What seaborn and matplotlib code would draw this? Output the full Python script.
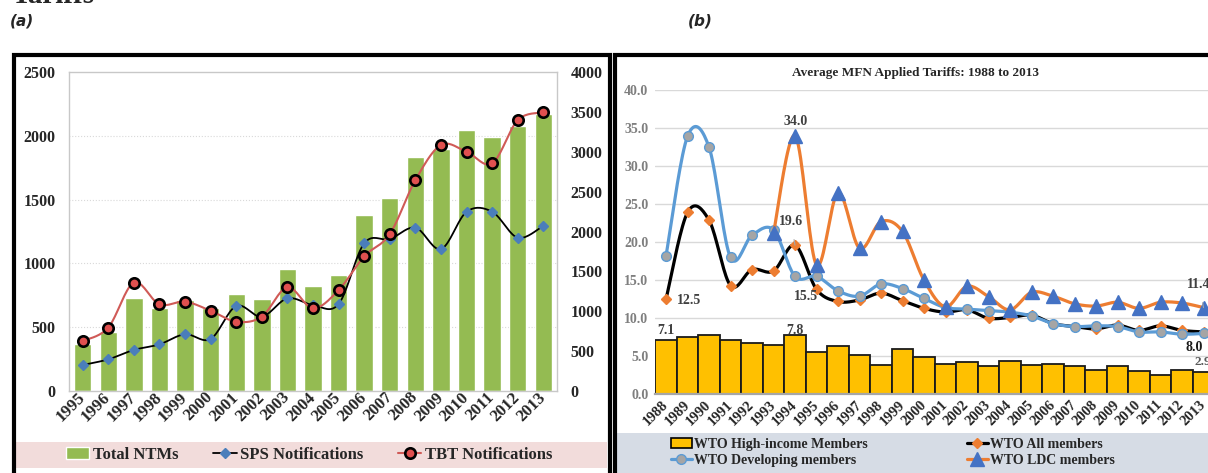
import numpy as np
import matplotlib
matplotlib.use('Agg')
import matplotlib.pyplot as plt
import seaborn as sns
from matplotlib.patches import Rectangle, Patch
from matplotlib.lines import Line2D

# ---- panel (a) data : NTM notifications
years_a = [str(y) for y in range(1995, 2014)]
total_ntms = [587, 739, 1163, 1042, 1134, 1042, 1211, 1152, 1528, 1315, 1458,
              2206, 2416, 2931, 3037, 3275, 3184, 3322, 3478]
sps_notif = [202, 246, 320, 364, 443, 406, 665, 581, 725, 673, 680,
             1157, 1191, 1280, 1112, 1405, 1405, 1201, 1295]
tbt_notif = [390, 495, 848, 678, 699, 628, 542, 581, 812, 647, 790,
             1055, 1230, 1654, 1929, 1876, 1785, 2125, 2185]

# ---- panel (b) data : average MFN applied tariffs
years_b = [str(y) for y in range(1988, 2014)]
high_income = [7.1, 7.5, 7.8, 7.2, 6.8, 6.5, 7.8, 5.6, 6.4, 5.2, 3.9, 5.9, 4.9,
               4.0, 4.3, 3.7, 4.4, 3.8, 3.95, 3.7, 3.25, 3.7, 3.1, 2.6, 3.25, 2.9]
all_members = [12.5, 23.9, 22.9, 14.3, 16.4, 16.2, 19.6, 13.8, 12.2, 12.4, 13.3,
               12.3, 11.3, 10.8, 11.1, 10.0, 10.1, 10.4, 9.3, 8.9, 8.6, 9.1, 8.4,
               9.0, 8.4, 8.2]
developing = [18.2, 33.9, 32.5, 18.0, 20.9, 21.6, 15.5, 15.5, 13.6, 12.9, 14.5,
              13.9, 12.6, 11.4, 11.2, 11.0, 10.8, 10.3, 9.3, 8.9, 9.0, 8.9, 8.2,
              8.2, 7.9, 8.0]
ldc = [np.nan, np.nan, np.nan, np.nan, np.nan, 21.2, 34.0, 17.0, 26.5, 19.2, 22.7,
       21.4, 15.0, 11.5, 14.2, 12.85, 11.1, 13.4, 12.9, 11.9, 11.6, 12.1, 11.3,
       12.1, 12.0, 11.4]


def smooth(xs, ys, n=20):
    # excel style smoothed line (bezier through the points)
    xs = np.asarray(xs, float)
    ys = np.asarray(ys, float)
    px = np.concatenate([[xs[0]], xs, [xs[-1]]])
    py = np.concatenate([[ys[0]], ys, [ys[-1]]])
    t = np.linspace(0, 1, n)[:, None]
    out_x, out_y = [], []
    for i in range(1, len(px) - 2):
        p0 = np.array([px[i], py[i]])
        p3 = np.array([px[i + 1], py[i + 1]])
        c1 = p0 + (p3 - np.array([px[i - 1], py[i - 1]])) / 6
        c2 = p3 - (np.array([px[i + 2], py[i + 2]]) - p0) / 6
        seg = (1 - t) ** 3 * p0 + 3 * (1 - t) ** 2 * t * c1 + 3 * (1 - t) * t ** 2 * c2 + t ** 3 * p3
        out_x.extend(seg[:, 0])
        out_y.extend(seg[:, 1])
    return out_x, out_y


sns.set_style('white')
plt.rcParams['font.family'] = ['Liberation Serif', 'DejaVu Serif']
plt.rcParams['font.weight'] = 'bold'

W, H = 1208, 473
fig = plt.figure(figsize=(W / 100, H / 100), dpi=100)


def fx(px):
    return px / W


def fy(py):
    return 1 - py / H


# headings
fig.text(fx(12), fy(3), 'Tariffs', fontsize=21, fontweight='bold', va='baseline')
fig.text(fx(10), fy(21), '(a)', fontsize=11, fontstyle='italic', fontweight='bold',
         family='DejaVu Sans', va='center')
fig.text(fx(688), fy(21), '(b)', fontsize=11, fontstyle='italic', fontweight='bold',
         family='DejaVu Sans', va='center')

# legend bands and frames
fig.add_artist(Rectangle((fx(15), fy(468.3)), fx(592), 26.6 / H, transform=fig.transFigure,
                         facecolor='#f2dcdb', edgecolor='none', zorder=0))
fig.add_artist(Rectangle((fx(617), fy(473)), fx(600), 40 / H, transform=fig.transFigure,
                         facecolor='#d6dce5', edgecolor='none', zorder=0))
fig.add_artist(Rectangle((fx(13.5), -0.05), fx(596), fy(55.5) + 0.05, transform=fig.transFigure,
                         fill=False, edgecolor='black', lw=3, zorder=10))
fig.add_artist(Rectangle((fx(615), -0.05), 1.0, fy(55.5) + 0.05, transform=fig.transFigure,
                         fill=False, edgecolor='black', lw=3, zorder=10))

# ================= panel (a)
ax_bar = fig.add_axes([fx(69.3), fy(390.7), fx(487.4), 318.4 / H])
sns.barplot(x=years_a, y=total_ntms, ax=ax_bar, color='#94bb52', saturation=1, width=0.68, zorder=2)
ax_bar.hlines([800, 1600, 2400, 3200], -1, 20, colors='#d9d9d9', linestyles=':', lw=0.8, zorder=0.5)
ax_bar.set_ylim(0, 4000)
ax_bar.set_xlim(-0.52, 18.52)

ax_line = ax_bar.twinx()
ax_bar.yaxis.tick_right()
ax_line.yaxis.tick_left()
x_a = np.arange(len(years_a))
sx, sy = smooth(x_a, sps_notif)
ax_line.plot(sx, sy, color='black', lw=1.3, zorder=3)
ax_line.plot(x_a, sps_notif, ls='none', marker='D', ms=5.5, mfc='#4a7ebb', mec='#4a7ebb', zorder=4)
tx, ty = smooth(x_a, tbt_notif)
ax_line.plot(tx, ty, color='#d05a57', lw=1.5, zorder=5)
ax_line.plot(x_a, tbt_notif, ls='none', marker='o', ms=7.5, mfc='#e0504f', mec='black', mew=1.9, zorder=6)
ax_line.set_ylim(0, 2500)
ax_line.set_yticks(range(0, 2501, 500))
ax_bar.set_yticks(range(0, 4001, 500))

for sp in ax_line.spines.values():
    sp.set_visible(False)
for sp in ax_bar.spines.values():
    sp.set_color('#c8c8c8')
    sp.set_linewidth(1.0)
ax_bar.set_xlabel('')
ax_bar.set_ylabel('')
ax_bar.tick_params(axis='y', length=0, pad=10, labelsize=11.5)
ax_line.tick_params(axis='y', length=0, pad=10, labelsize=11.5)
ax_bar.tick_params(axis='x', length=0, pad=3, labelsize=12.2)
for lab in ax_bar.get_xticklabels():
    lab.set_rotation(45)
    lab.set_ha('right')
    lab.set_va('center')
    lab.set_rotation_mode('anchor')
    lab.set_fontweight('bold')
for lab in ax_bar.get_yticklabels() + ax_line.get_yticklabels():
    lab.set_fontweight('bold')

handles_a = [Patch(facecolor='#94bb52'),
             Line2D([0], [0], color='black', lw=1.3, marker='D', ms=5.5, mfc='#4a7ebb', mec='#4a7ebb'),
             Line2D([0], [0], color='#d05a57', lw=1.5, marker='o', ms=7.5, mfc='#e0504f', mec='black', mew=1.9)]
fig.legend(handles_a, ['Total NTMs', 'SPS Notifications', 'TBT Notifications'],
           loc='center left', bbox_to_anchor=(fx(66), fy(455)), ncol=3, frameon=False,
           prop={'size': 12, 'weight': 'bold'}, handlelength=1.4, handletextpad=0.2,
           columnspacing=2.1, borderpad=0, borderaxespad=0)

# ================= panel (b)
ax_b = fig.add_axes([fx(655.25), fy(394.3), fx(559), 304.3 / H])
sns.barplot(x=years_b, y=high_income, ax=ax_b, color='#ffc000', saturation=1, width=1.0,
            edgecolor='#1a1a1a', linewidth=1.3, zorder=2)
x_b = np.arange(len(years_b))

ax_x, ax_y = smooth(x_b, all_members)
ax_b.plot(ax_x, ax_y, color='black', lw=2.3, zorder=3)
ax_b.plot(x_b, all_members, ls='none', marker='D', ms=5.5, mfc='#ed7d31', mec='#ed7d31', zorder=4)

dx, dy = smooth(x_b, developing)
ax_b.plot(dx, dy, color='#5b9bd5', lw=2.3, zorder=5)
ax_b.plot(x_b, developing, ls='none', marker='o', ms=7, mfc='#a5a5a5', mec='#5b9bd5', mew=1, zorder=6)

ok = ~np.isnan(np.array(ldc))
lx, ly = smooth(x_b[ok], np.array(ldc)[ok])
ax_b.plot(lx, ly, color='#ed7d31', lw=2.3, zorder=7)
ax_b.plot(x_b[ok], np.array(ldc)[ok], ls='none', marker='^', ms=10, mfc='#4472c4', mec='#4472c4', zorder=8)

ax_b.set_ylim(0, 40)
ax_b.set_xlim(-0.5, 25.5)
ax_b.set_yticks(range(0, 41, 5))
ax_b.set_yticklabels([f'{v:.1f}' for v in range(0, 41, 5)])
ax_b.yaxis.grid(True, color='#d9d9d9', lw=1.0)
ax_b.set_axisbelow(True)
for k in ['top', 'right', 'left']:
    ax_b.spines[k].set_visible(False)
ax_b.spines['bottom'].set_color('#a6a6a6')
ax_b.spines['bottom'].set_linewidth(1.6)
ax_b.set_xlabel('')
ax_b.set_ylabel('')
ax_b.tick_params(axis='y', length=0, pad=5, labelsize=10, labelcolor='#7f7f7f')
ax_b.tick_params(axis='x', length=0, pad=6, labelsize=10.5, labelcolor='#262626')
for lab in ax_b.get_xticklabels():
    lab.set_rotation(45)
    lab.set_ha('right')
    lab.set_va('center')
    lab.set_rotation_mode('anchor')
    lab.set_fontweight('bold')
for lab in ax_b.get_yticklabels():
    lab.set_fontweight('bold')

fig.text(fx(916), fy(73), 'Average MFN Applied Tariffs: 1988 to 2013', fontsize=9.5,
         fontweight='bold', ha='center', va='center')

# data labels
lab_kw = dict(fontsize=10, fontweight='bold', color='#404040', ha='center', va='center', zorder=9)
ax_b.text(0.0, 8.4, '7.1', **lab_kw)
ax_b.text(6.0, 8.4, '7.8', **lab_kw)
ax_b.text(1.07, 12.3, '12.5', **lab_kw)
ax_b.text(6.02, 35.8, '34.0', **lab_kw)
ax_b.annotate('19.6', xy=(6.0, 19.6), xytext=(5.81, 22.7), textcoords='data',
              arrowprops=dict(arrowstyle='-', color='#a6a6a6', lw=0.8, shrinkA=6, shrinkB=5), **lab_kw)
ax_b.annotate('15.5', xy=(6.0, 15.5), xytext=(6.49, 12.9), textcoords='data',
              arrowprops=dict(arrowstyle='-', color='#a6a6a6', lw=0.8, shrinkA=6, shrinkB=4), **lab_kw)
ax_b.annotate('11.4', xy=(25.0, 11.4), xytext=(24.8, 14.4), textcoords='data',
              arrowprops=dict(arrowstyle='-', color='#a6a6a6', lw=0.8, shrinkA=6, shrinkB=6), **lab_kw)
ax_b.text(24.56, 6.2, '8.0', fontsize=10, fontweight='bold', color='#1a1a1a', ha='center', va='center', zorder=9)
ax_b.text(24.98, 4.2, '2.9', fontsize=9.5, color='#595959', ha='center', va='center', zorder=9)

h_bar = Patch(facecolor='#ffc000', edgecolor='black', lw=1.2)
h_dev = Line2D([0], [0], color='#5b9bd5', lw=2.3, marker='o', ms=7, mfc='#a5a5a5', mec='#5b9bd5')
h_all = Line2D([0], [0], color='black', lw=2.3, marker='D', ms=5.5, mfc='#ed7d31', mec='#ed7d31')
h_ldc = Line2D([0], [0], color='#ed7d31', lw=2.3, marker='^', ms=10, mfc='#4472c4', mec='#4472c4')
leg_kw = dict(loc='center left', frameon=False, prop={'size': 10, 'weight': 'bold'},
              handlelength=1.5, handletextpad=0.15, labelspacing=0.25, borderpad=0, borderaxespad=0)
fig.legend([h_bar, h_dev], ['WTO High-income Members', 'WTO Developing members'],
           bbox_to_anchor=(fx(671), fy(452.5)), **leg_kw)
fig.legend([h_all, h_ldc], ['WTO All members', 'WTO LDC members'],
           bbox_to_anchor=(fx(967), fy(452.5)), **leg_kw)

fig.savefig('out.png', dpi=100, facecolor='white')
